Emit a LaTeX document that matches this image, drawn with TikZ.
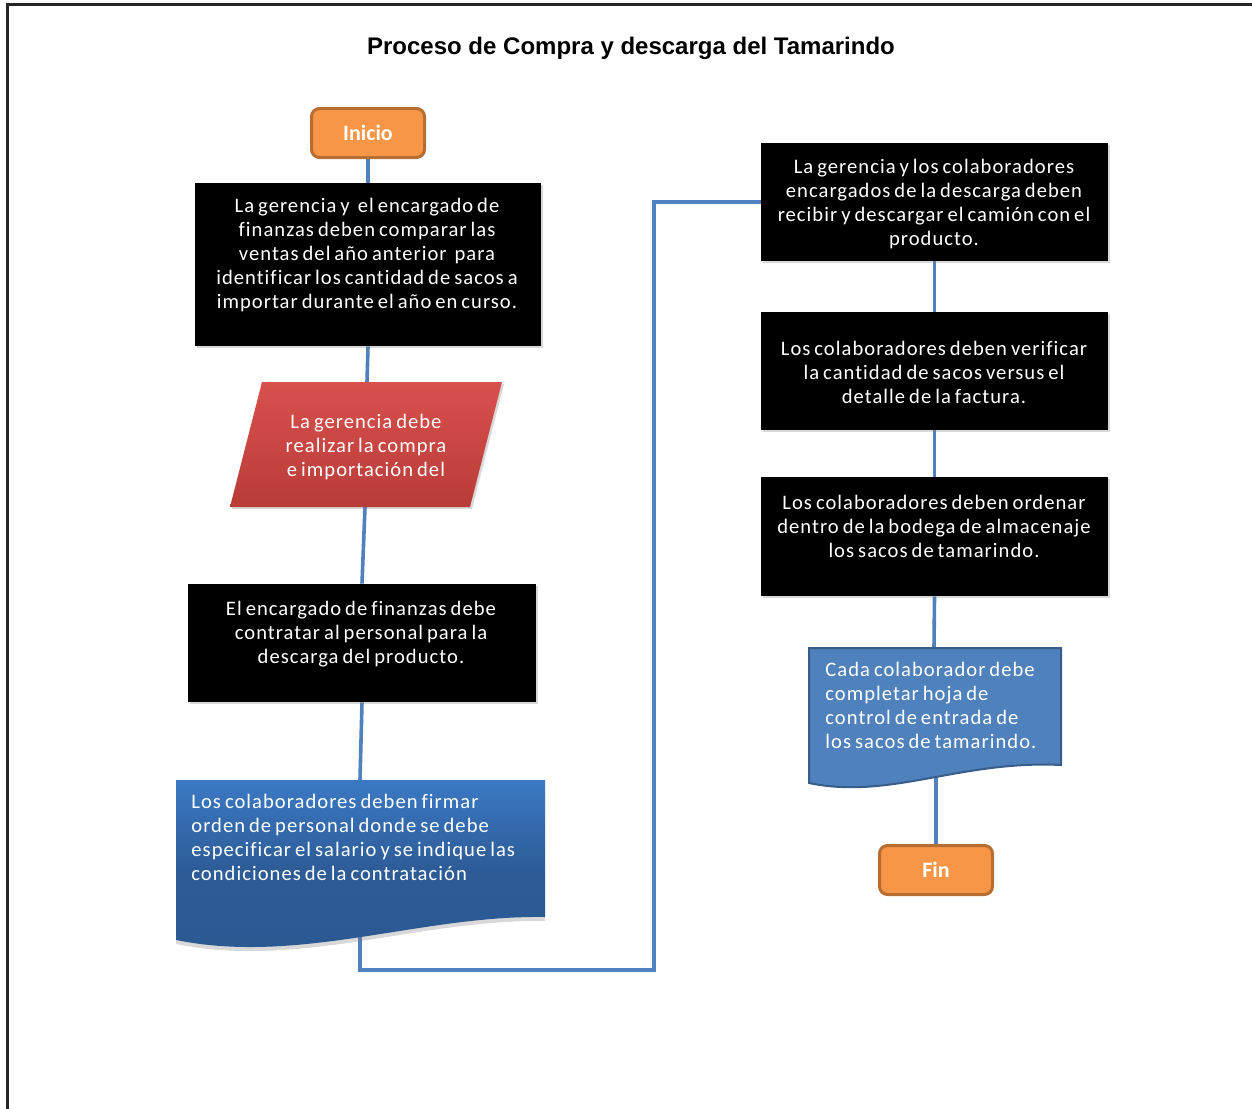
\documentclass[tikz,border=0pt]{standalone}
\usepackage{fontspec}
\setmainfont{Carlito}[LetterSpace=5, WordSpace=0.7, Ligatures=NoCommon]
\newfontfamily\termfont{Carlito}
\newfontfamily\titlefont{Liberation Sans}
\usetikzlibrary{shadows,calc}
\pgfdeclarelayer{bottom}
\pgfdeclarelayer{background}
\pgfsetlayers{bottom,background,main}
\definecolor{orfill}{HTML}{F79646}
\definecolor{ordraw}{HTML}{B66D31}
\definecolor{conncol}{HTML}{4F81BD}
\definecolor{redtop}{HTML}{D9504C}
\definecolor{redbot}{HTML}{B83C39}
\definecolor{bluetop}{HTML}{3B79C4}
\definecolor{bluebot}{HTML}{2B5891}
\definecolor{docfill}{HTML}{4F81BD}
\definecolor{docdraw}{HTML}{385D8A}
\tikzset{
  terminal/.style={rectangle, rounded corners=4pt, fill=orfill, draw=ordraw, line width=1.5pt,
     minimum width=56.5pt, minimum height=24.5pt, text=white, font=\termfont\fontsize{11}{12}\selectfont\bfseries},
  bbox/.style={rectangle, fill=black, draw=none, minimum width=173.5pt, minimum height=59pt,
     drop shadow={shadow xshift=1pt, shadow yshift=-1pt, opacity=0.3}},
  txt/.style={text=white, align=center, inner sep=0pt, font=\fontsize{10.3}{12}\selectfont},
  ltxt/.style={text=white, align=left, inner sep=0pt, anchor=west, font=\fontsize{10.3}{12}\selectfont},
  conn/.style={draw=conncol, line width=1.8pt},
}
\begin{document}
\begin{tikzpicture}[x=0.5pt, y=-0.5pt]
\useasboundingbox (0,0) rectangle (1252,1108);
\begin{pgfonlayer}{bottom}
\fill[white] (0,0) rectangle (1252,1108);
\end{pgfonlayer}
% frame
\draw[line width=1.5pt, black!85] (7,1110) -- (7,4) -- (1254,4);
% title
\node[font=\titlefont\fontsize{12}{14}\selectfont\bfseries] (title) at (631,48) {Proceso de Compra y descarga del Tamarindo};

% left column
\node[terminal] (inicio) at (368,133) {Inicio};
\node[bbox, minimum width=173pt, minimum height=81.5pt] (b1) at (368,264.5) {};
\node[txt] (t1) at (367,255) {La gerencia y\ \ el encargado de\\finanzas deben comparar las\\ventas del año anterior\ \ para\\identificar los cantidad de sacos a\\importar durante el año en curso.};

% parallelogram
\shade[top color=redtop, bottom color=redbot, drop shadow={shadow xshift=1pt, shadow yshift=-1pt, opacity=0.3}]
  (262,382) -- (502,382) -- (470,507) -- (230,507) -- cycle;
\coordinate (ptop) at (367,382);
\coordinate (pbot) at (365,507);
\node[txt] (p) at (366,447) {La gerencia debe\\realizar la compra\\e importación del};

\node[bbox, minimum width=174pt] (b3) at (362,643) {};
\node[txt] (t3) at (361,634) {El encargado de finanzas debe\\contratar al personal para la\\descarga del producto.};

% document 1
\shade[top color=bluetop, bottom color=bluebot, middle color=bluebot!90!bluetop,
  drop shadow={shadow xshift=0pt, shadow yshift=-2pt, opacity=0.3}]
  (176,780) -- (545,780) -- (545,917) .. controls (420,915) and (300,965) .. (176,940) -- cycle;
\coordinate (d1top) at (360,780);
\coordinate (d1bot) at (360,936);
\node[ltxt] (d1) at (191,837) {Los colaboradores deben firmar\\orden de personal donde se debe\\especificar el salario y se indique las\\condiciones de la contratación};

% right column
\node[bbox] (b4) at (934.5,202) {};
\node[txt] (t4) at (934,204) {La gerencia y los colaboradores\\encargados de la descarga deben\\recibir y descargar el camión con el\\producto.};
\node[bbox] (b5) at (934.5,371) {};
\node[txt] (t5) at (934,372) {Los colaboradores deben verificar\\la cantidad de sacos versus el\\detalle de la factura.};
\node[bbox, minimum height=59.5pt] (b6) at (934.5,536.5) {};
\node[txt] (t6) at (934,526) {Los colaboradores deben ordenar\\dentro de la bodega de almacenaje\\los sacos de tamarindo.};

% document 2
\filldraw[fill=docfill, draw=docdraw, line width=1pt]
  (809,648) -- (1061,648) -- (1061,765) .. controls (960,760) and (890,800) .. (809,783) -- cycle;
\coordinate (d2top) at (934,648);
\coordinate (d2bot) at (936,775);
\node[ltxt] (d2) at (825,705) {Cada colaborador debe\\completar hoja de\\control de entrada de\\los sacos de tamarindo.};

\node[terminal] (fin) at (936,870) {Fin};

% connectors
\begin{pgfonlayer}{background}
\draw[conn] (inicio.south) -- (b1.north);
\draw[conn] (b1.south) -- (ptop);
\draw[conn] (pbot) -- (b3.north);
\draw[conn] (b3.south) -- (d1top);
\draw[conn] (d1bot) |- (654,970) |- (b4.west);
\draw[conn] (b4.south) -- (b5.north);
\draw[conn] (b5.south) -- (b6.north);
\draw[conn] (b6.south) -- (d2top);
\draw[conn] (d2bot) -- (fin.north);
\end{pgfonlayer}
\end{tikzpicture}
\end{document}
